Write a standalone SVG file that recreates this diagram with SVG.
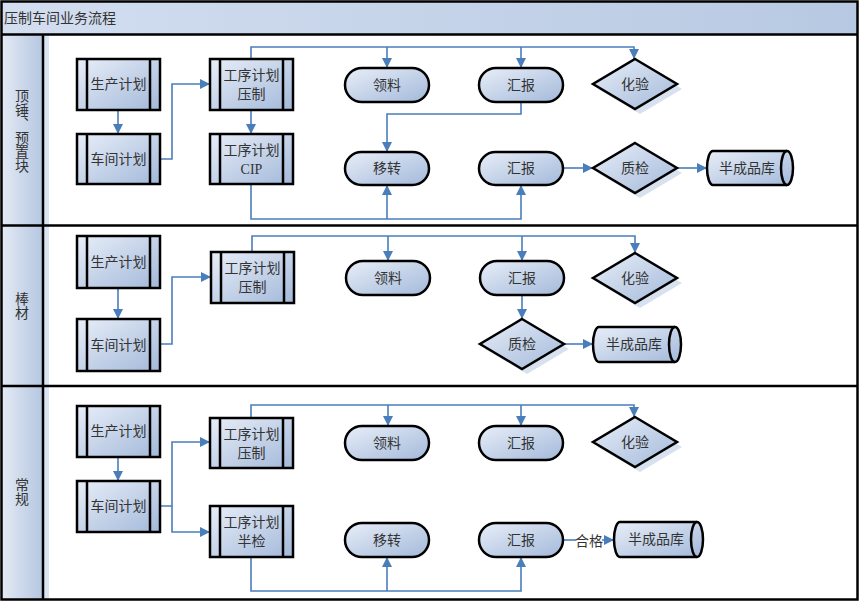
<svg xmlns="http://www.w3.org/2000/svg" width="860" height="606" viewBox="0 0 860 606">
<defs>
<linearGradient id="ng" x1="0" y1="0" x2="1" y2="1"><stop offset="0" stop-color="#e8eef8"/><stop offset="1" stop-color="#a3b9da"/></linearGradient>
<linearGradient id="hg" x1="0" y1="0" x2="1" y2="0"><stop offset="0" stop-color="#e3eaf5"/><stop offset="1" stop-color="#b4c6e0"/></linearGradient>
<linearGradient id="tg" x1="0" y1="0" x2="1" y2="0"><stop offset="0" stop-color="#d3def0"/><stop offset="1" stop-color="#b7c9e2"/></linearGradient>
<marker id="ar" markerUnits="userSpaceOnUse" markerWidth="10" markerHeight="10" refX="10" refY="5" orient="auto" viewBox="0 0 10 10"><path d="M0,0 L10,5 L0,10 z" fill="#4a7ebb"/></marker>
<style>
.sh{fill:url(#ng);stroke:#000;stroke-width:2.5}
.bar{stroke:#000;stroke-width:2.5}
.ds{fill:#d8e1ef}
.t{font-family:"Liberation Serif","Noto Sans CJK SC",serif;font-size:14px;fill:#333;text-anchor:middle;dominant-baseline:central}
.lt{font-family:"Noto Sans CJK SC",sans-serif;font-size:14px;fill:#333;text-anchor:middle;dominant-baseline:central}
.vt{font-family:"Noto Sans CJK SC",sans-serif;font-size:14px;fill:#333;text-anchor:middle;writing-mode:vertical-rl}
.c{fill:none;stroke:#4a7ebb;stroke-width:1.6}
.ca{fill:none;stroke:#4a7ebb;stroke-width:1.6;marker-end:url(#ar)}
.fr{fill:none;stroke:#000;stroke-width:2.5}
</style>
</defs>
<g id="frame">
<rect x="1.5" y="1.5" width="856" height="598" fill="#fff"/>
<rect x="1.5" y="1.5" width="856" height="33" fill="url(#tg)"/>
<text x="4" y="17" font-family="Noto Sans CJK SC,sans-serif" font-size="14" fill="#333" dominant-baseline="central">压制车间业务流程</text>
<rect x="43" y="34" width="6" height="566" fill="#dbe4f1"/>
<rect x="2" y="34" width="41" height="566" fill="url(#hg)"/>
<line x1="43" y1="34" x2="43" y2="599" class="fr"/>
<line x1="1.5" y1="34.5" x2="857.5" y2="34.5" class="fr"/>
<line x1="1.5" y1="225.5" x2="857.5" y2="225.5" class="fr"/>
<line x1="1.5" y1="386" x2="857.5" y2="386" class="fr"/>
<rect x="1.5" y="1.5" width="856" height="598" class="fr"/>
</g>
<g id="lane1-label"><text class="vt" x="22" y="131">顶锤、预置块</text></g>
<g id="lane2-label"><text class="vt" x="22" y="306">棒材</text></g>
<g id="lane3-label"><text class="vt" x="22" y="492">常规</text></g>

<g id="connectors">
<path class="ca" d="M118,110 V134"/>
<path class="ca" d="M160,159 H172 V84 H210"/>
<path class="ca" d="M251,110 V134"/>
<path class="ca" d="M251,59 V47 H634 V59"/>
<path class="ca" d="M387,47 V68"/>
<path class="ca" d="M521,47 V68"/>
<path class="ca" d="M521,102 V114 H387 V152"/>
<path class="ca" d="M251,184 V219 H521 V185"/>
<path class="ca" d="M387,219 V185"/>
<path class="ca" d="M563,168 H593"/>
<path class="ca" d="M677,168 H707"/>

<path class="ca" d="M118,288 V319"/>
<path class="ca" d="M160,344 H172 V277 H211"/>
<path class="ca" d="M252,252 V236 H635 V253"/>
<path class="ca" d="M388,236 V261"/>
<path class="ca" d="M522,236 V261"/>
<path class="ca" d="M522,295 V319"/>
<path class="ca" d="M564,344 H593"/>

<path class="ca" d="M118,457 V481"/>
<path class="ca" d="M160,506 H172 V442 H210"/>
<path class="ca" d="M172,506 V532 H210"/>
<path class="ca" d="M251,418 V405 H634 V417"/>
<path class="ca" d="M388,405 V426"/>
<path class="ca" d="M521,405 V426"/>
<path class="ca" d="M251,557 V591 H521 V557"/>
<path class="ca" d="M387,591 V557"/>
<path class="c" d="M563,540 H576"/>
<text class="lt" x="589" y="540">合格</text>
<path class="ca" d="M602,540 H614"/>
</g>

<g id="p1a"><rect class="sh" x="77" y="59" width="83" height="51"/><line class="bar" x1="87" y1="59" x2="87" y2="110"/><line class="bar" x1="150" y1="59" x2="150" y2="110"/><text class="t" x="118.5" y="84.5">生产计划</text></g>
<g id="p1b"><rect class="sh" x="77" y="134" width="83" height="50"/><line class="bar" x1="87" y1="134" x2="87" y2="184"/><line class="bar" x1="150" y1="134" x2="150" y2="184"/><text class="t" x="118.5" y="159">车间计划</text></g>
<g id="p1c"><rect class="sh" x="210" y="59" width="83" height="51"/><line class="bar" x1="220" y1="59" x2="220" y2="110"/><line class="bar" x1="283" y1="59" x2="283" y2="110"/><text class="t" x="251.5" y="75">工序计划</text><text class="t" x="251.5" y="94">压制</text></g>
<g id="p1d"><rect class="sh" x="210" y="134" width="83" height="50"/><line class="bar" x1="220" y1="134" x2="220" y2="184"/><line class="bar" x1="283" y1="134" x2="283" y2="184"/><text class="t" x="251.5" y="150">工序计划</text><text class="t" x="251.5" y="169">CIP</text></g>
<g id="t1a"><rect class="sh" x="345" y="68" width="84" height="34" rx="17"/><text class="t" x="387" y="85">领料</text></g>
<g id="t1b"><rect class="sh" x="479" y="68" width="84" height="34" rx="17"/><text class="t" x="521" y="85">汇报</text></g>
<g id="t1c"><rect class="sh" x="345" y="152" width="84" height="33" rx="16.5"/><text class="t" x="387" y="168.5">移转</text></g>
<g id="t1d"><rect class="sh" x="479" y="152" width="84" height="33" rx="16.5"/><text class="t" x="521" y="168.5">汇报</text></g>
<g id="d1a"><path class="ds" d="M640,64 L682,89 L640,114 L598,89 Z"/><path class="sh" d="M635,59 L677,84 L635,109 L593,84 Z"/><text class="t" x="635" y="84">化验</text></g>
<g id="d1b"><path class="ds" d="M640,148 L682,173 L640,198 L598,173 Z"/><path class="sh" d="M635,143 L677,168 L635,193 L593,168 Z"/><text class="t" x="635" y="168">质检</text></g>
<g id="c1"><path class="sh" d="M713,151 H787 A6,17 0 0 1 787,185 H713 A6,17 0 0 1 713,151 Z"/><path class="bar" fill="none" d="M787,151 A6,17 0 0 0 787,185"/><text class="t" x="747" y="168">半成品库</text></g>

<g id="p2a"><rect class="sh" x="77" y="236" width="83" height="52"/><line class="bar" x1="87" y1="236" x2="87" y2="288"/><line class="bar" x1="150" y1="236" x2="150" y2="288"/><text class="t" x="118.5" y="262">生产计划</text></g>
<g id="p2b"><rect class="sh" x="77" y="319" width="83" height="52"/><line class="bar" x1="87" y1="319" x2="87" y2="371"/><line class="bar" x1="150" y1="319" x2="150" y2="371"/><text class="t" x="118.5" y="345">车间计划</text></g>
<g id="p2c"><rect class="sh" x="211" y="252" width="83" height="51"/><line class="bar" x1="221" y1="252" x2="221" y2="303"/><line class="bar" x1="284" y1="252" x2="284" y2="303"/><text class="t" x="252.5" y="268">工序计划</text><text class="t" x="252.5" y="287">压制</text></g>
<g id="t2a"><rect class="sh" x="346" y="261" width="84" height="34" rx="17"/><text class="t" x="388" y="278">领料</text></g>
<g id="t2b"><rect class="sh" x="480" y="261" width="84" height="34" rx="17"/><text class="t" x="522" y="278">汇报</text></g>
<g id="d2a"><path class="ds" d="M640,258 L682,283 L640,308 L598,283 Z"/><path class="sh" d="M635,253 L677,278 L635,303 L593,278 Z"/><text class="t" x="635" y="278">化验</text></g>
<g id="d2b"><path class="ds" d="M527,324 L569,349 L527,374 L485,349 Z"/><path class="sh" d="M522,319 L564,344 L522,369 L480,344 Z"/><text class="t" x="522" y="344">质检</text></g>
<g id="c2"><path class="sh" d="M599,327 H675 A6,17.5 0 0 1 675,362 H599 A6,17.5 0 0 1 599,327 Z"/><path class="bar" fill="none" d="M675,327 A6,17.5 0 0 0 675,362"/><text class="t" x="634" y="344.5">半成品库</text></g>

<g id="p3a"><rect class="sh" x="77" y="406" width="83" height="51"/><line class="bar" x1="87" y1="406" x2="87" y2="457"/><line class="bar" x1="150" y1="406" x2="150" y2="457"/><text class="t" x="118.5" y="431.5">生产计划</text></g>
<g id="p3b"><rect class="sh" x="77" y="481" width="83" height="51"/><line class="bar" x1="87" y1="481" x2="87" y2="532"/><line class="bar" x1="150" y1="481" x2="150" y2="532"/><text class="t" x="118.5" y="506.5">车间计划</text></g>
<g id="p3c"><rect class="sh" x="210" y="418" width="83" height="50"/><line class="bar" x1="220" y1="418" x2="220" y2="468"/><line class="bar" x1="283" y1="418" x2="283" y2="468"/><text class="t" x="251.5" y="434">工序计划</text><text class="t" x="251.5" y="453">压制</text></g>
<g id="p3d"><rect class="sh" x="210" y="506" width="83" height="51"/><line class="bar" x1="220" y1="506" x2="220" y2="557"/><line class="bar" x1="283" y1="506" x2="283" y2="557"/><text class="t" x="251.5" y="522">工序计划</text><text class="t" x="251.5" y="541">半检</text></g>
<g id="t3a"><rect class="sh" x="345" y="426" width="84" height="34" rx="17"/><text class="t" x="387" y="443">领料</text></g>
<g id="t3b"><rect class="sh" x="479" y="426" width="84" height="34" rx="17"/><text class="t" x="521" y="443">汇报</text></g>
<g id="d3a"><path class="ds" d="M640,422 L682,447 L640,472 L598,447 Z"/><path class="sh" d="M635,417 L677,442 L635,467 L593,442 Z"/><text class="t" x="635" y="442">化验</text></g>
<g id="t3c"><rect class="sh" x="345" y="523" width="84" height="34" rx="17"/><text class="t" x="387" y="540">移转</text></g>
<g id="t3d"><rect class="sh" x="479" y="523" width="84" height="34" rx="17"/><text class="t" x="521" y="540">汇报</text></g>
<g id="c3"><path class="sh" d="M620,522 H697 A6,17.5 0 0 1 697,557 H620 A6,17.5 0 0 1 620,522 Z"/><path class="bar" fill="none" d="M697,522 A6,17.5 0 0 0 697,557"/><text class="t" x="656" y="539.5">半成品库</text></g>
</svg>
